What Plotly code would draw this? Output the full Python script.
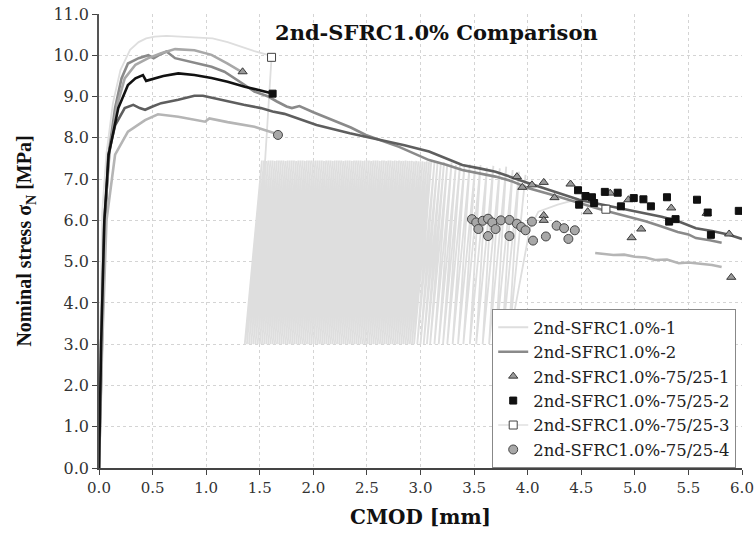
import plotly.graph_objects as go

# ---------------- data ----------------
# 2nd-SFRC1.0%-1 : monotonic part, then cyclic unload/reload band
s1_pre_x = [0.0, 0.01, 0.03, 0.07, 0.13, 0.20, 0.29, 0.37, 0.44, 0.52, 0.63, 0.80, 1.06, 1.20, 1.31, 1.45, 1.59, 1.61, 1.55]
s1_pre_y = [0.0, 3.0, 6.2, 7.63, 8.84, 9.64, 10.13, 10.32, 10.41, 10.45, 10.47, 10.45, 10.41, 10.32, 10.22, 10.10, 10.0, 9.95, 7.45]
cycle_peak_x = [1.52, 1.54, 1.56, 1.58, 1.60, 1.62, 1.64, 1.66, 1.68, 1.70,
                1.72, 1.74, 1.76, 1.78, 1.80, 1.82, 1.84, 1.86, 1.88, 1.90,
                1.92, 1.94, 1.96, 1.98, 2.00, 2.02, 2.04, 2.06, 2.08, 2.10,
                2.12, 2.14, 2.16, 2.18, 2.20, 2.22, 2.24, 2.26, 2.28, 2.30,
                2.32, 2.34, 2.36, 2.38, 2.40, 2.42, 2.44, 2.46, 2.48, 2.50,
                2.52, 2.54, 2.56, 2.58, 2.60, 2.62, 2.64, 2.66, 2.68, 2.70,
                2.72, 2.74, 2.76, 2.78, 2.80, 2.82, 2.84, 2.86, 2.88, 2.90,
                2.92, 2.94, 2.96, 2.98, 3.00, 3.02, 3.04, 3.06, 3.08, 3.10,
                3.13, 3.16, 3.19, 3.22, 3.25, 3.29, 3.33, 3.37, 3.41, 3.46,
                3.51, 3.56, 3.62, 3.68, 3.74, 3.80, 3.86, 3.92, 3.98]
cycle_peak_y = [7.45, 7.45, 7.44, 7.45, 7.45, 7.45, 7.44, 7.45, 7.45, 7.45,
                7.45, 7.44, 7.45, 7.45, 7.45, 7.45, 7.44, 7.45, 7.45, 7.45,
                7.44, 7.45, 7.45, 7.45, 7.44, 7.45, 7.45, 7.45, 7.45, 7.44,
                7.45, 7.45, 7.45, 7.44, 7.45, 7.45, 7.45, 7.45, 7.44, 7.45,
                7.45, 7.45, 7.44, 7.45, 7.45, 7.45, 7.45, 7.44, 7.45, 7.45,
                7.45, 7.44, 7.45, 7.45, 7.45, 7.44, 7.45, 7.45, 7.44, 7.45,
                7.45, 7.44, 7.45, 7.44, 7.45, 7.44, 7.44, 7.45, 7.44, 7.44,
                7.44, 7.43, 7.44, 7.43, 7.43, 7.43, 7.42, 7.43, 7.41, 7.42,
                7.40, 7.42, 7.38, 7.41, 7.36, 7.40, 7.34, 7.38, 7.32, 7.36,
                7.30, 7.34, 7.28, 7.32, 7.26, 7.30, 7.22, 7.18, 7.10]
cycle_valley_y = 3.0
cycle_unload_dx = 0.16
s1_post_x = [4.02, 4.10, 4.28, 4.45, 4.60]
s1_post_y = [5.80, 6.21, 6.38, 6.50, 6.40]

# 2nd-SFRC1.0%-2 (medium grey, long)
s2_x = [0.0, 0.02, 0.05, 0.10, 0.15, 0.21, 0.27, 0.37, 0.46, 0.51, 0.57, 0.63, 0.71, 0.83, 0.95, 1.05, 1.17, 1.27,
        1.36, 1.45, 1.58, 1.66, 1.75, 1.80, 1.87, 2.00, 2.18, 2.35, 2.49, 2.62, 2.80, 3.08, 3.24, 3.39, 3.55, 3.70,
        3.85, 4.01, 4.25, 4.48, 4.70, 4.94, 5.10, 5.25, 5.40, 5.50, 5.57, 5.70, 5.81]
s2_y = [0.0, 3.0, 6.0, 7.8, 8.72, 9.44, 9.80, 9.93, 10.0, 9.93, 10.02, 10.09, 9.93, 9.85, 9.78, 9.72, 9.60, 9.44,
        9.28, 9.12, 9.00, 8.88, 8.76, 8.72, 8.77, 8.62, 8.43, 8.25, 8.07, 7.95, 7.78, 7.46, 7.35, 7.22, 7.14, 7.06,
        6.95, 6.78, 6.60, 6.42, 6.25, 6.09, 5.98, 5.85, 5.72, 5.66, 5.57, 5.52, 5.46]

# additional dark-grey curve (peak ~9.0)
s3_x = [0.0, 0.02, 0.05, 0.087, 0.15, 0.24, 0.32, 0.38, 0.43, 0.50, 0.58, 0.74, 0.89, 0.97, 1.05, 1.20, 1.35, 1.51,
        1.62, 1.73, 2.03, 2.34, 2.62, 2.85, 3.08, 3.39, 3.55, 3.70, 4.01, 4.25, 4.48, 4.70, 4.94, 5.10, 5.25, 5.41,
        5.57, 5.72, 5.88, 6.0]
s3_y = [0.0, 2.5, 5.5, 7.59, 8.30, 8.72, 8.80, 8.72, 8.68, 8.76, 8.84, 8.92, 9.02, 9.02, 8.97, 8.89, 8.80, 8.72,
        8.64, 8.58, 8.31, 8.11, 7.95, 7.82, 7.67, 7.34, 7.26, 7.18, 6.90, 6.70, 6.50, 6.38, 6.25, 6.18, 6.09, 5.97,
        5.81, 5.74, 5.65, 5.55]

# 75/25-1 (triangles)
t1_line_x = [0.0, 0.02, 0.05, 0.10, 0.17, 0.24, 0.34, 0.46, 0.58, 0.71, 0.89, 1.05, 1.20, 1.33]
t1_line_y = [0.0, 3.0, 6.0, 7.7, 8.8, 9.44, 9.77, 9.93, 10.05, 10.15, 10.12, 10.01, 9.80, 9.60]
t1_pts_x = [1.34, 3.90, 3.95, 4.04, 4.15, 4.25, 4.40, 4.56, 4.15, 4.15, 4.77, 4.94, 5.06, 4.97, 5.34, 5.67, 5.88, 5.90]
t1_pts_y = [9.60, 7.06, 6.80, 6.86, 6.92, 6.55, 6.88, 6.21, 6.12, 6.00, 6.66, 6.50, 5.79, 5.58, 6.30, 6.17, 5.67, 4.62]

# 75/25-2 (black squares)
t2_line_x = [0.0, 0.02, 0.05, 0.09, 0.18, 0.27, 0.34, 0.41, 0.44, 0.52, 0.60, 0.74, 0.89, 1.05, 1.20, 1.36, 1.50, 1.61]
t2_line_y = [0.0, 3.0, 6.0, 7.59, 8.72, 9.28, 9.44, 9.52, 9.38, 9.44, 9.50, 9.56, 9.52, 9.45, 9.36, 9.24, 9.15, 9.08]
t2_pts_x = [1.62, 4.47, 4.54, 4.60, 4.48, 4.62, 4.72, 4.84, 4.87, 4.99, 5.08, 5.15, 5.30, 5.32, 5.38, 5.58, 5.68, 5.71, 5.97]
t2_pts_y = [9.07, 6.73, 6.59, 6.56, 6.38, 6.42, 6.69, 6.67, 6.34, 6.54, 6.51, 6.34, 6.56, 5.97, 6.03, 6.50, 6.19, 5.65, 6.23]

# 75/25-3 (open squares)
t3_pts_x = [1.61, None, 4.73]
t3_pts_y = [9.95, None, 6.27]

# 75/25-4 (circles)
t4_line_x = [0.0, 0.03, 0.07, 0.15, 0.27, 0.43, 0.55, 0.74, 0.99, 1.03, 1.20, 1.45, 1.64,
             None, 4.63, 4.72, 4.80, 4.90, 5.00, 5.10, 5.19, 5.30, 5.41, 5.50, 5.60, 5.72, 5.81]
t4_line_y = [0.0, 3.0, 6.0, 7.59, 8.15, 8.43, 8.57, 8.51, 8.39, 8.47, 8.38, 8.27, 8.11,
             None, 5.21, 5.19, 5.16, 5.17, 5.12, 5.10, 5.04, 5.05, 4.96, 4.98, 4.95, 4.92, 4.87]
t4_pts_x = [1.67, 3.48, 3.52, 3.58, 3.63, 3.67, 3.75, 3.83, 3.90, 3.94, 3.98, 3.54, 3.70, 3.63, 3.83, 4.04,
            4.05, 4.17, 4.27, 4.34, 4.38, 4.44]
t4_pts_y = [8.07, 6.03, 5.95, 5.99, 6.04, 5.95, 6.00, 6.01, 5.92, 5.84, 5.76, 5.79, 5.79, 5.62, 5.62, 5.97,
            5.51, 5.61, 5.87, 5.81, 5.55, 5.76]

x_ticks = [0.0, 0.5, 1.0, 1.5, 2.0, 2.5, 3.0, 3.5, 4.0, 4.5, 5.0, 5.5, 6.0]
y_ticks = [0.0, 1.0, 2.0, 3.0, 4.0, 5.0, 6.0, 7.0, 8.0, 9.0, 10.0, 11.0]

# build SFRC-1 path (monotonic + cycles)
s1_x = list(s1_pre_x)
s1_y = list(s1_pre_y)
for px, py in zip(cycle_peak_x, cycle_peak_y):
    s1_x += [px - cycle_unload_dx, px]
    s1_y += [cycle_valley_y, py]
s1_x += [cycle_peak_x[-1] - cycle_unload_dx] + s1_post_x
s1_y += [cycle_valley_y] + s1_post_y

SERIF = "DejaVu Serif"
SERIF_V = "Liberation Serif"

fig = go.Figure()

fig.add_trace(go.Scatter(x=s1_x, y=s1_y, mode="lines", name="2nd-SFRC1.0%-1",
                         line=dict(color="#dedede", width=1.8)))
fig.add_trace(go.Scatter(x=s2_x, y=s2_y, mode="lines", name="2nd-SFRC1.0%-2",
                         line=dict(color="#8a8a8a", width=2.6)))
fig.add_trace(go.Scatter(x=s3_x, y=s3_y, mode="lines", showlegend=False,
                         line=dict(color="#5e5e5e", width=2.6)))
fig.add_trace(go.Scatter(x=t4_line_x, y=t4_line_y, mode="lines", showlegend=False,
                         line=dict(color="#b5b5b5", width=2.6)))
fig.add_trace(go.Scatter(x=t1_line_x, y=t1_line_y, mode="lines", showlegend=False,
                         line=dict(color="#a8a8a8", width=2.6)))
fig.add_trace(go.Scatter(x=t2_line_x, y=t2_line_y, mode="lines", showlegend=False,
                         line=dict(color="#111111", width=2.6)))

fig.add_trace(go.Scatter(x=t1_pts_x, y=t1_pts_y, mode="markers", name="2nd-SFRC1.0%-75/25-1",
                         marker=dict(symbol="triangle-up", size=8, color="#9a9a9a",
                                     line=dict(color="#3a3a3a", width=1))))
fig.add_trace(go.Scatter(x=t2_pts_x, y=t2_pts_y, mode="markers", name="2nd-SFRC1.0%-75/25-2",
                         marker=dict(symbol="square", size=7, color="#111111",
                                     line=dict(color="#111111", width=1))))
fig.add_trace(go.Scatter(x=t3_pts_x, y=t3_pts_y, mode="lines+markers", name="2nd-SFRC1.0%-75/25-3",
                         connectgaps=False,
                         line=dict(color="#e0e0e0", width=1.5),
                         marker=dict(symbol="square", size=8, color="white",
                                     line=dict(color="#444444", width=1))))
fig.add_trace(go.Scatter(x=t4_pts_x, y=t4_pts_y, mode="markers", name="2nd-SFRC1.0%-75/25-4",
                         marker=dict(symbol="circle", size=9, color="#a8a8a8",
                                     line=dict(color="#444444", width=1))))

fig.update_layout(
    width=755, height=539,
    margin=dict(l=99, r=13, t=14, b=71, autoexpand=False),
    paper_bgcolor="white", plot_bgcolor="white",
    font=dict(family=SERIF, color="#222222"),
    title=dict(text="<b>2nd-SFRC1.0% Comparison</b>", x=0.578, y=0.939, xanchor="center", yanchor="middle",
               font=dict(family=SERIF, size=21, color="#111111")),
    legend=dict(x=0.991, y=0.0, xanchor="right", yanchor="bottom",
                bgcolor="white", bordercolor="#888888", borderwidth=1,
                font=dict(family=SERIF, size=16.5, color="#222222"),
                tracegroupgap=0, itemwidth=30),
    showlegend=True,
)
fig.update_xaxes(range=[0, 6.0], tickvals=x_ticks, tickformat=".1f", automargin=False,
                 showgrid=True, gridcolor="#d4d4d4", griddash="dot", gridwidth=1,
                 showline=True, linecolor="#444444", linewidth=1.5,
                 ticks="outside", ticklen=5, tickcolor="#444444",
                 ticklabeloverflow="allow",
                 tickfont=dict(family=SERIF, size=15, color="#333333"),
                 title=dict(text="<b>CMOD [mm]</b>", font=dict(family=SERIF, size=20, color="#111111"), standoff=14),
                 zeroline=False)
fig.update_yaxes(range=[0, 11.0], tickvals=y_ticks, tickformat=".1f", automargin=False,
                 showgrid=True, gridcolor="#d4d4d4", griddash="dot", gridwidth=1,
                 showline=True, linecolor="#555555", linewidth=1.5,
                 ticks="outside", ticklen=5, tickcolor="#444444",
                 ticklabeloverflow="allow",
                 tickfont=dict(family=SERIF, size=16, color="#333333"),
                 title=dict(text="<b>Nominal stress σ<sub>N</sub> [MPa]</b>",
                            font=dict(family=SERIF_V, size=20, color="#111111"), standoff=16),
                 zeroline=False)

fig.write_html("out.html")
